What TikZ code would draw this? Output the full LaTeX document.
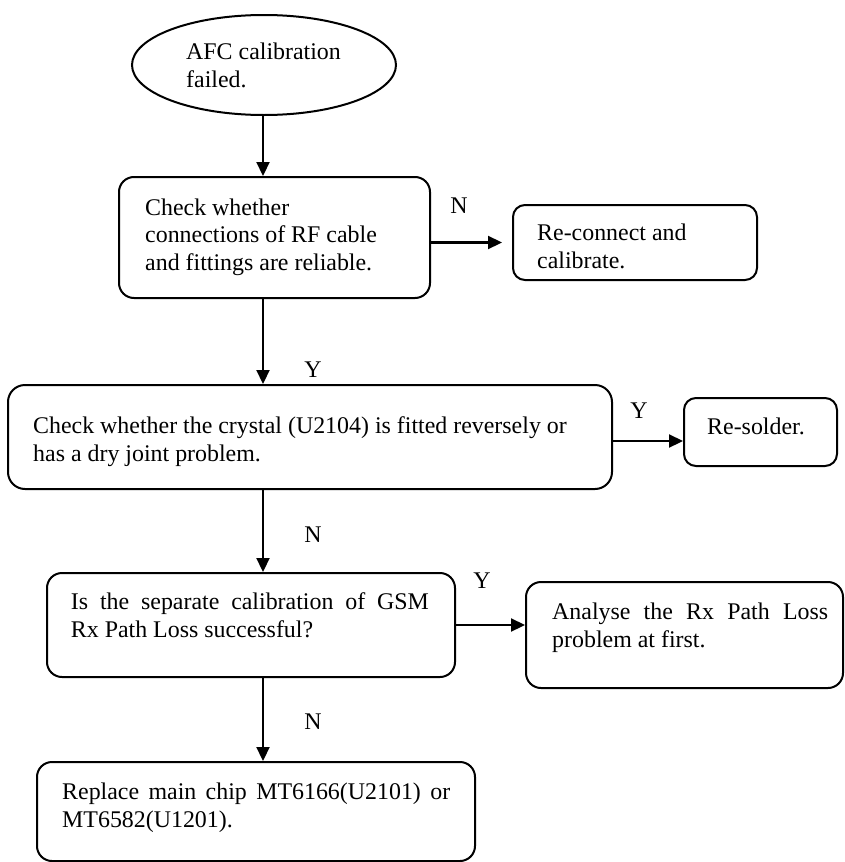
\documentclass[tikz,border=0pt]{standalone}
\usepackage{fontspec}
\setmainfont{Liberation Serif}
\usetikzlibrary{arrows.meta,shapes.geometric,fit}
\begin{document}
\begin{tikzpicture}[x=1pt,y=-1pt,
  box/.style={draw, line width=2pt, rounded corners=15pt, inner sep=0pt},
  smallbox/.style={box, rounded corners=12pt},
  txt/.style={anchor=base west, inner sep=0pt, align=left,
    font=\fontsize{23.9}{27.3}\selectfont},
  lbl/.style={inner sep=0pt, font=\fontsize{23.9}{27.3}\selectfont},
  flow/.style={line width=2.2pt, -{Triangle[length=14pt,width=13pt]}}]
\useasboundingbox (0,0) rectangle (844,862);

% shared vertical axis of the main column
\coordinate (spine) at (263,0);

% start terminal (text anchored at the baseline of its last line)
\node[draw, ellipse, line width=2pt, minimum width=264pt, minimum height=100pt,
      inner sep=0pt] (ell) at (264,65) {};
\node[txt] (tell) at (186,87) {AFC calibration\\failed.};

% process boxes
\node[box, fit={(119,177) (430,298)}] (b1) {};
\node[txt] (tb1) at (145,270) {Check whether\\connections of RF cable\\and fittings are reliable.};

\node[smallbox, fit={(513,205) (757,280)}] (b2) {};
\node[txt] (tb2) at (537,268) {Re-connect and\\calibrate.};

\node[box, rounded corners=17pt, fit={(8,385) (612,489)}] (b3) {};
\node[txt] (tb3) at (33,461) {Check whether the crystal (U2104) is fitted reversely or\\has a dry joint problem.};

\node[smallbox, fit={(684,398) (837,466)}] (rs) {};
\node[txt] (trs) at (707,434) {Re-solder.};

\node[box, fit={(47,573) (455,677)}] (b4) {};
\node[txt] (tb4) at (70.7,637) {\makebox[358pt][s]{Is the separate calibration of GSM}\\Rx Path Loss successful?};

\node[box, fit={(526,582) (843,688)}] (b6) {};
\node[txt] (tb6) at (552,647) {\makebox[276pt][s]{Analyse the Rx Path Loss}\\problem at first.};

\node[box, fit={(37,762) (475,861)}] (b5) {};
\node[txt] (tb5) at (62,827) {\makebox[388pt][s]{Replace main chip MT6166(U2101) or}\\MT6582(U1201).};

% branch labels
\node[lbl] (n1) at (459,206) {N};
\node[lbl] (y1) at (313,370) {Y};
\node[lbl] (y2) at (639,411) {Y};
\node[lbl] (n2) at (313,535) {N};
\node[lbl] (y3) at (482,581) {Y};
\node[lbl] (n3) at (313,722) {N};

% connectors
\coordinate (rsrow) at (0,441);
\draw[flow] (ell.south -| spine) -- (b1.north -| spine);
\draw[flow, shorten >=10pt] (b1.east |- b2.west) -- (b2.west);
\draw[flow] (b1.south -| spine) -- (b3.north -| spine);
\draw[flow] (b3.east |- rsrow) -- (rs.west |- rsrow);
\draw[flow] (b3.south -| spine) -- (b4.north -| spine);
\draw[flow] (b4.east) -- (b4.east -| b6.west);
\draw[flow] (b4.south -| spine) -- (b5.north -| spine);
\end{tikzpicture}
\end{document}
